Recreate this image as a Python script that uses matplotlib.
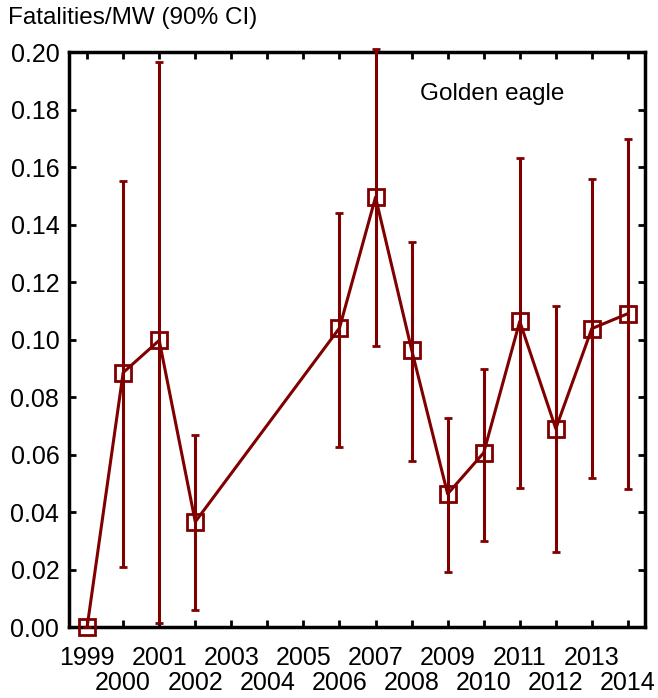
import numpy as np
import matplotlib
matplotlib.use('Agg')
import matplotlib.pyplot as plt

plt.rcParams['font.family'] = ['Liberation Sans', 'DejaVu Sans']

years = [1999, 2000, 2001, 2002, 2006, 2007, 2008, 2009, 2010, 2011, 2012, 2013, 2014]
rate = [0.0, 0.0885, 0.0997, 0.0366, 0.104, 0.1495, 0.0965, 0.0463, 0.0606, 0.1063, 0.069, 0.1038, 0.109]
ci_low = [0.0, 0.0209, 0.0014, 0.0059, 0.0627, 0.0976, 0.0578, 0.0192, 0.030, 0.0484, 0.026, 0.0517, 0.048]
ci_high = [0.0, 0.155, 0.1965, 0.0669, 0.144, 0.201, 0.134, 0.0728, 0.0899, 0.163, 0.1115, 0.1557, 0.1697]

odd_years = list(range(1999, 2015, 2))
even_years = list(range(2000, 2015, 2))
col = '#800000'

fig = plt.figure(figsize=(6.58, 6.98), dpi=100)
ax = fig.add_axes([0.105, 0.1017, 0.875, 0.8238])

rate = np.array(rate)
yerr = [rate - np.array(ci_low), np.array(ci_high) - rate]
ax.errorbar(years, rate, yerr=yerr, color=col, lw=2.2, elinewidth=2.2,
            capsize=3, capthick=2, marker='s', ms=11, mfc='none',
            mec=col, mew=2, clip_on=False, zorder=3)

ax.set_xlim(1998.5, 2014.47)
ax.set_ylim(0, 0.2)
# odd years on the first row, even years below them
ax.set_xticks(odd_years)
ax.set_xticklabels([str(y) for y in odd_years])
ax.set_xticks(even_years, minor=True)
ax.set_xticklabels([str(y) for y in even_years], minor=True)
ax.set_yticks(np.arange(0, 0.201, 0.02))
ax.set_yticklabels(['%.2f' % v for v in np.arange(0, 0.201, 0.02)])

ax.tick_params(which='both', direction='in', length=5, width=2, top=True, right=True,
               labelsize=18)
ax.tick_params(axis='y', pad=7)
ax.tick_params(axis='x', which='major', pad=13.5)
ax.tick_params(axis='x', which='minor', pad=32)
for s in ax.spines.values():
    s.set_linewidth(2.5)

ax.text(0.734, 0.927, 'Golden eagle', transform=ax.transAxes, ha='center',
        va='center', fontsize=17.5)
fig.text(0.012, 0.974, 'Fatalities/MW (90% CI)', ha='left', va='center', fontsize=17.5)

fig.savefig('out.png', dpi=100)
